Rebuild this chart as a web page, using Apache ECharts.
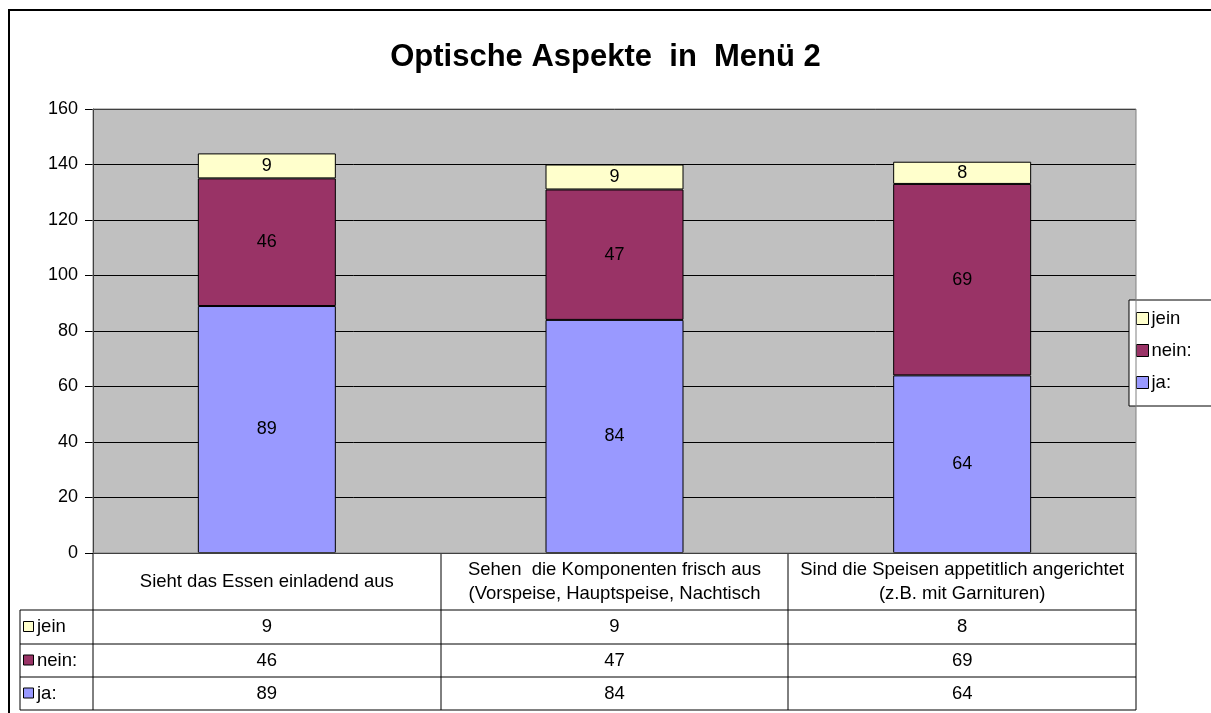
<!DOCTYPE html>
<html>
<head>
<meta charset="utf-8">
<script src="https://cdn.jsdelivr.net/npm/echarts@6/dist/echarts.min.js"></script>
<style>
  html, body { margin: 0; padding: 0; background: #fff; }
  #chart { width: 1211px; height: 713px; }
</style>
</head>
<body>
<div id="chart"></div>
<script>
// chart data
const categories = [
  'Sieht das Essen einladend aus',
  'Sehen  die Komponenten frisch aus\n(Vorspeise, Hauptspeise, Nachtisch',
  'Sind die Speisen appetitlich angerichtet\n(z.B. mit Garnituren)'
];
const ja = [89, 84, 64];
const nein = [46, 47, 69];
const jein = [9, 9, 8];
const yTicks = { min: 0, max: 160, interval: 20 };

const colors = { ja: '#9999FF', nein: '#993366', jein: '#FFFFCC' };
const font = 'Liberation Sans, Arial, sans-serif';
const fs = 18;   // tick / data label size
const tfs = 18.5; // table text size

// grid box (px)
const G = { left: 93, right: 1136, top: 109, bottom: 553 };
const rowY = [610, 644, 677, 710]; // table row lines
const tableLeft = 20;

function valueAxis(vals, margin) {
  return {
    type: 'category', position: 'bottom', data: categories,
    axisLine: { show: false }, axisTick: { show: false },
    axisLabel: {
      interval: 0, margin: margin, verticalAlign: 'middle', fontSize: tfs, color: '#000', fontFamily: font,
      formatter: (v, i) => String(vals[i])
    }
  };
}

function bar(name, data, color) {
  return {
    name: name, type: 'bar', stack: 'all', data: data, barWidth: 138,
    itemStyle: { color: color, borderColor: '#000', borderWidth: 1 },
    label: { show: true, position: 'inside', color: '#000', fontSize: fs, fontFamily: font },
    emphasis: { disabled: true }
  };
}

const line = (x1, y1, x2, y2) => ({ type: 'line', shape: { x1, y1, x2, y2 }, style: { stroke: '#000', lineWidth: 1 } });
const rowLabels = [['jein', colors.jein], ['nein:', colors.nein], ['ja:', colors.ja]];
const graphics = [
  { type: 'rect', shape: { x: 9, y: 10, width: 1240, height: 740 }, style: { fill: 'none', stroke: '#000', lineWidth: 2 } },
  { type: 'rect', shape: { x: G.left, y: G.top, width: G.right - G.left, height: G.bottom - G.top }, style: { fill: 'none', stroke: '#808080', lineWidth: 1 }, z: 5 },
  line(tableLeft, rowY[0], tableLeft, rowY[3])
];
rowY.forEach(y => graphics.push(line(tableLeft, y, G.right, y)));
// column separators at category boundaries
const step = (G.right - G.left) / categories.length;
for (let i = 0; i <= categories.length; i++) {
  const x = Math.round(G.left + i * step);
  graphics.push(line(x, G.bottom, x, rowY[3]));
}
rowLabels.forEach(([t, c], i) => {
  const cy = (rowY[i] + rowY[i + 1]) / 2;
  graphics.push({ type: 'rect', shape: { x: 23.5, y: cy - 5.5, width: 10, height: 10 }, style: { fill: c, stroke: '#000', lineWidth: 1 } });
  graphics.push({ type: 'text', x: 37, y: cy, style: { text: t, fontSize: tfs, fontFamily: font, fill: '#000', verticalAlign: 'middle' } });
});

const chart = echarts.init(document.getElementById('chart'));
chart.setOption({
  animation: false,
  backgroundColor: '#fff',
  title: {
    text: 'Optische Aspekte  in  Menü 2', left: 'center', top: 37,
    textStyle: { fontSize: 31, fontWeight: 'bold', fontFamily: font, color: '#000' }
  },
  legend: {
    data: ['jein', 'nein:', 'ja:'], orient: 'vertical', left: 1129, top: 300,
    icon: 'rect', itemWidth: 12, itemHeight: 12, itemGap: 13,
    padding: [9, 30, 14, 7], borderColor: '#000', borderWidth: 1, backgroundColor: '#fff',
    textStyle: { fontSize: tfs, fontFamily: font, color: '#000', padding: [0, 0, 0, -2] },
    itemStyle: { borderColor: '#000', borderWidth: 1 }
  },
  grid: { left: G.left, right: 1211 - G.right, top: G.top, bottom: 713 - G.bottom, show: true, backgroundColor: '#C0C0C0', borderWidth: 0 },
  xAxis: [
    {
      type: 'category', position: 'bottom', data: categories,
      axisLine: { lineStyle: { color: '#000', width: 1 } },
      axisTick: { show: false },
      axisLabel: { interval: 0, hideOverlap: false, margin: 29, verticalAlign: 'middle', lineHeight: 24, fontSize: tfs, color: '#000', fontFamily: font }
    },
    valueAxis(jein, 74),
    valueAxis(nein, 107.5),
    valueAxis(ja, 140.5)
  ],
  yAxis: {
    type: 'value', min: yTicks.min, max: yTicks.max, interval: yTicks.interval,
    axisLine: { show: true, lineStyle: { color: '#000' } },
    axisTick: { show: true, length: 8, lineStyle: { color: '#000' } },
    axisLabel: { fontSize: fs, color: '#000', fontFamily: font, margin: 15 },
    splitLine: { lineStyle: { color: '#000', width: 1 } }
  },
  series: [
    bar('ja:', ja, colors.ja),
    bar('nein:', nein, colors.nein),
    bar('jein', jein, colors.jein)
  ],
  graphic: graphics
});
</script>
</body>
</html>
